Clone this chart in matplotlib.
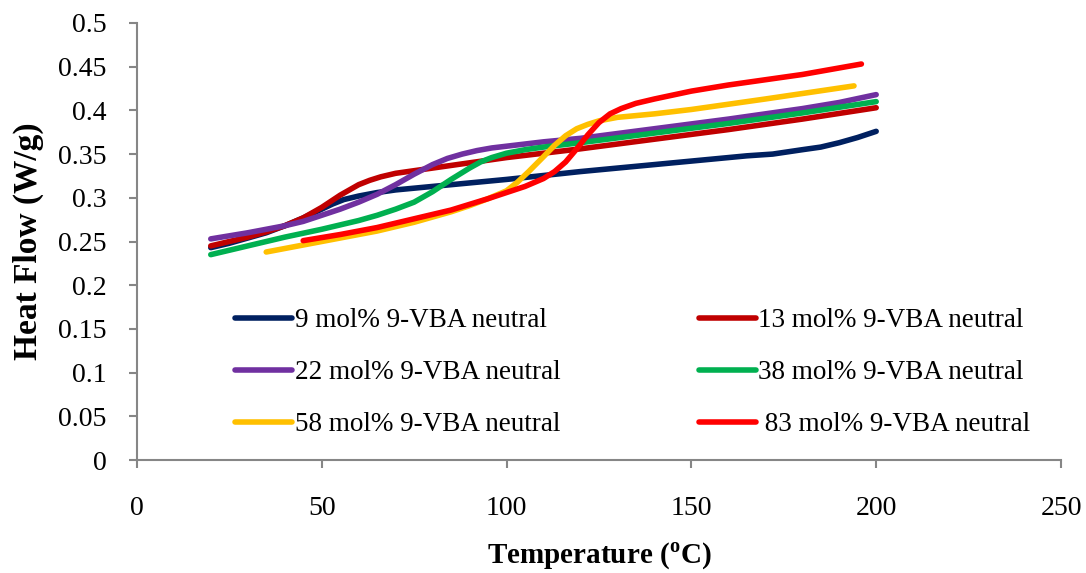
import numpy as np
import matplotlib
matplotlib.use("Agg")
import matplotlib.pyplot as plt

# values (temperature in C, heat flow in W/g)
t_9 = [20, 25, 30, 35, 40, 45, 50, 53, 56, 60, 65, 70, 80, 100, 120, 140, 160, 165, 172, 180, 185, 190, 195, 200]
hf_9 = [0.243, 0.248, 0.254, 0.260, 0.268, 0.277, 0.287, 0.293, 0.298, 0.302, 0.306, 0.309, 0.313, 0.321, 0.330, 0.338, 0.346, 0.348, 0.350, 0.355, 0.358, 0.363, 0.369, 0.376]

t_13 = [20, 25, 30, 35, 40, 45, 50, 55, 60, 63, 66, 70, 75, 80, 90, 100, 120, 140, 160, 180, 200]
hf_13 = [0.245, 0.250, 0.255, 0.261, 0.268, 0.277, 0.289, 0.303, 0.315, 0.320, 0.324, 0.328, 0.331, 0.334, 0.340, 0.346, 0.356, 0.367, 0.378, 0.390, 0.403]

t_22 = [20, 30, 40, 45, 50, 55, 60, 65, 70, 75, 80, 84, 88, 92, 96, 100, 110, 120, 140, 160, 180, 190, 200]
hf_22 = [0.253, 0.260, 0.268, 0.273, 0.280, 0.287, 0.295, 0.304, 0.315, 0.327, 0.338, 0.345, 0.350, 0.354, 0.357, 0.359, 0.364, 0.368, 0.379, 0.390, 0.402, 0.409, 0.418]

t_38 = [20, 30, 40, 50, 60, 65, 70, 75, 80, 85, 90, 93, 96, 100, 105, 110, 120, 140, 160, 180, 200]
hf_38 = [0.235, 0.245, 0.255, 0.264, 0.274, 0.280, 0.287, 0.295, 0.307, 0.321, 0.334, 0.341, 0.346, 0.351, 0.355, 0.358, 0.363, 0.374, 0.385, 0.397, 0.410]

t_58 = [35, 45, 55, 65, 75, 85, 90, 95, 100, 103, 106, 110, 113, 116, 119, 122, 125, 130, 140, 150, 170, 194]
hf_58 = [0.238, 0.246, 0.254, 0.262, 0.272, 0.284, 0.291, 0.299, 0.308, 0.318, 0.330, 0.347, 0.360, 0.371, 0.379, 0.384, 0.388, 0.392, 0.396, 0.401, 0.413, 0.428]

t_83 = [45, 55, 65, 75, 85, 95, 100, 105, 110, 113, 116, 119, 122, 125, 128, 131, 135, 140, 150, 160, 180, 196]
hf_83 = [0.251, 0.258, 0.266, 0.276, 0.286, 0.299, 0.306, 0.313, 0.322, 0.330, 0.341, 0.356, 0.372, 0.386, 0.396, 0.402, 0.408, 0.413, 0.422, 0.429, 0.441, 0.453]

labels = ["9 mol% 9-VBA neutral", "13 mol% 9-VBA neutral", "22 mol% 9-VBA neutral",
          "38 mol% 9-VBA neutral", "58 mol% 9-VBA neutral", " 83 mol% 9-VBA neutral"]
colors = ["#002060", "#C00000", "#7030A0", "#00B050", "#FFC000", "#FF0000"]

x_ticks = [0, 50, 100, 150, 200, 250]
y_ticks = [0, 0.05, 0.1, 0.15, 0.2, 0.25, 0.3, 0.35, 0.4, 0.45, 0.5]

plt.rcParams['font.family'] = ['Liberation Serif', 'DejaVu Serif']
plt.rcParams['mathtext.fontset'] = 'custom'
plt.rcParams['mathtext.rm'] = 'Liberation Serif'
plt.rcParams['mathtext.bf'] = 'Liberation Serif:bold'

fig = plt.figure(figsize=(10.86, 5.73), dpi=100)
ax = fig.add_axes([0.126, 0.197, 0.851, 0.763])

series = [(t_9, hf_9), (t_13, hf_13), (t_22, hf_22), (t_38, hf_38), (t_58, hf_58), (t_83, hf_83)]
lines = []
for (t, hf), lab, c in zip(series, labels, colors):
    ln, = ax.plot(t, hf, color=c, lw=4.0, label=lab, solid_capstyle='round', solid_joinstyle='round')
    lines.append(ln)

ax.set_xlim(0, 250)
ax.set_ylim(0, 0.5)
ax.set_xticks(x_ticks)
ax.set_yticks(y_ticks)
ax.set_xticklabels([str(v) for v in x_ticks])
ax.set_yticklabels([f"{v:g}" for v in y_ticks])

for side in ['top', 'right']:
    ax.spines[side].set_visible(False)
for side in ['left', 'bottom']:
    ax.spines[side].set_color('#868686')
    ax.spines[side].set_linewidth(1.5)
ax.tick_params(axis='both', direction='out', color='#868686', width=1.5, length=6, labelsize=20)
ax.tick_params(axis='x', pad=20)
ax.tick_params(axis='y', pad=16)

ax.set_xlabel(r"Temperature ($^{\mathbf{o}}$C)", fontsize=21, fontweight='bold', labelpad=14)
ax.set_ylabel("Heat Flow (W/g)", fontsize=24, fontweight='bold', labelpad=10)

# legend reads row by row, matplotlib fills column by column
order = [0, 2, 4, 1, 3, 5]
ax.legend([lines[i] for i in order], [labels[i] for i in order], ncol=2, frameon=False,
          loc='upper left', bbox_to_anchor=(0.095, 0.372), fontsize=19.5,
          handlelength=2.1, handletextpad=0.1, columnspacing=5.1, labelspacing=1.0,
          borderaxespad=0)

fig.savefig("out.png", dpi=100)
